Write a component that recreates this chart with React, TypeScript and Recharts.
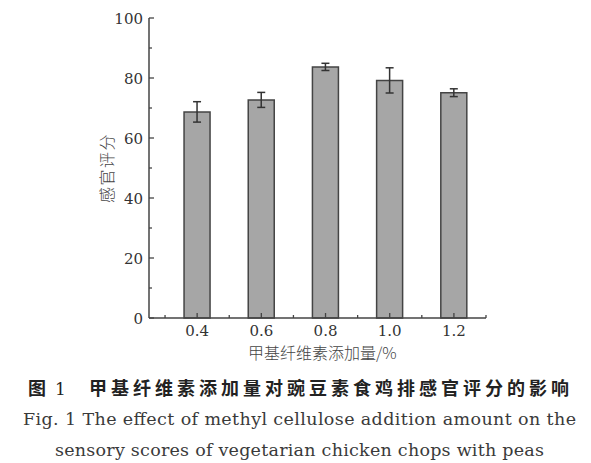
import React from "react";
import { Bar, BarChart, ErrorBar, XAxis, YAxis } from "recharts";

const categories = [0.4, 0.6, 0.8, 1.0, 1.2];
const scores = [68.7, 72.7, 83.7, 79.2, 75.1];
const errors = [3.4, 2.5, 1.2, 4.2, 1.3];
const xTicks = [0.3, 0.4, 0.5, 0.6, 0.7, 0.8, 0.9, 1.0, 1.1, 1.2, 1.3];
const xLabels = ["0.4", "0.6", "0.8", "1.0", "1.2"];
const yTicks = [0, 10, 20, 30, 40, 50, 60, 70, 80, 90, 100];
const yLabels = [0, 20, 40, 60, 80, 100];

const data = categories.map((c, i) => ({ x: c, score: scores[i], err: errors[i] }));

const axisColor = "#444";
const serif = "DejaVu Serif";
const cjk = "Noto Sans CJK SC";

function XTick(props: any) {
  const { x, y, payload } = props;
  const label = xLabels.find((l) => Math.abs(parseFloat(l) - payload.value) < 1e-6);
  return (
    <g>
      <line x1={x} x2={x} y1={y} y2={y - (label ? 5 : 3)} stroke={axisColor} strokeWidth={1.3} />
      {label && (
        <text x={x} y={y + 18} textAnchor="middle" fontFamily={serif} fontSize={15} fill="#333">
          {label}
        </text>
      )}
    </g>
  );
}

function YTick(props: any) {
  const { x, y, payload } = props;
  const major = yLabels.includes(payload.value);
  return (
    <g>
      <line x1={x} x2={x + (major ? 5 : 3)} y1={y} y2={y} stroke={axisColor} strokeWidth={1.3} />
      {major && (
        <text x={x - 6} y={y + 5.5} textAnchor="end" fontFamily={serif} fontSize={15} fill="#333">
          {payload.value}
        </text>
      )}
    </g>
  );
}

export default function App() {
  return (
    <div style={{ position: "absolute", left: 0, top: 0, width: 591, height: 463, background: "#fff" }}>
      <BarChart width={591} height={340} data={data} margin={{ top: 18, right: 105, bottom: 0, left: 0 }}>
        <XAxis
          dataKey="x"
          type="number"
          domain={[0.25, 1.3]}
          ticks={xTicks}
          height={22}
          tickSize={0}
          tickMargin={0}
          tickLine={false}
          tick={<XTick />}
          interval={0}
          axisLine={{ stroke: axisColor, strokeWidth: 1.5 }}
          allowDataOverflow
        />
        <YAxis
          type="number"
          domain={[0, 100]}
          ticks={yTicks}
          width={149}
          tickSize={0}
          tickMargin={0}
          tickLine={false}
          tick={<YTick />}
          interval={0}
          axisLine={{ stroke: axisColor, strokeWidth: 1.5 }}
        />
        <Bar dataKey="score" fill="#a6a6a6" stroke="#444" strokeWidth={1.5} barSize={26} isAnimationActive={false}>
          <ErrorBar dataKey="err" direction="y" width={4} stroke="#333" strokeWidth={1.5} />
        </Bar>
      </BarChart>
      <div
        style={{
          position: "absolute", left: 106, top: 168, transform: "translate(-50%, -50%) rotate(-90deg)",
          fontFamily: cjk, fontSize: 16, letterSpacing: 1.5, color: "#444", whiteSpace: "nowrap", fontWeight: 300,
        }}
      >
        感官评分
      </div>
      <div
        style={{
          position: "absolute", left: 248, top: 340, fontFamily: cjk, fontSize: 16, color: "#444",
          whiteSpace: "nowrap", fontWeight: 300,
        }}
      >
        甲基纤维素添加量/%
      </div>
      <svg width={591} height={123} style={{ position: "absolute", left: 0, top: 340 }}>
        <g transform="translate(0,-340)">
          <text x={28} y={395} fontFamily={cjk} fontSize={18} fontWeight={700} fill="#222">图</text>
          <text x={55} y={395} fontFamily={serif} fontSize={17} fill="#222">1</text>
          <text x={89} y={395} textLength={480} lengthAdjust="spacing" fontFamily={cjk} fontSize={18} fontWeight={700} fill="#222">
            甲基纤维素添加量对豌豆素食鸡排感官评分的影响
          </text>
          <text x={23} y={425} textLength={553} lengthAdjust="spacing" fontFamily={serif} fontSize={17.5} fill="#3a3a3a">
            Fig. 1 The effect of methyl cellulose addition amount on the
          </text>
          <text x={55} y={456} textLength={489} lengthAdjust="spacing" fontFamily={serif} fontSize={17.5} fill="#3a3a3a">
            sensory scores of vegetarian chicken chops with peas
          </text>
        </g>
      </svg>
    </div>
  );
}
